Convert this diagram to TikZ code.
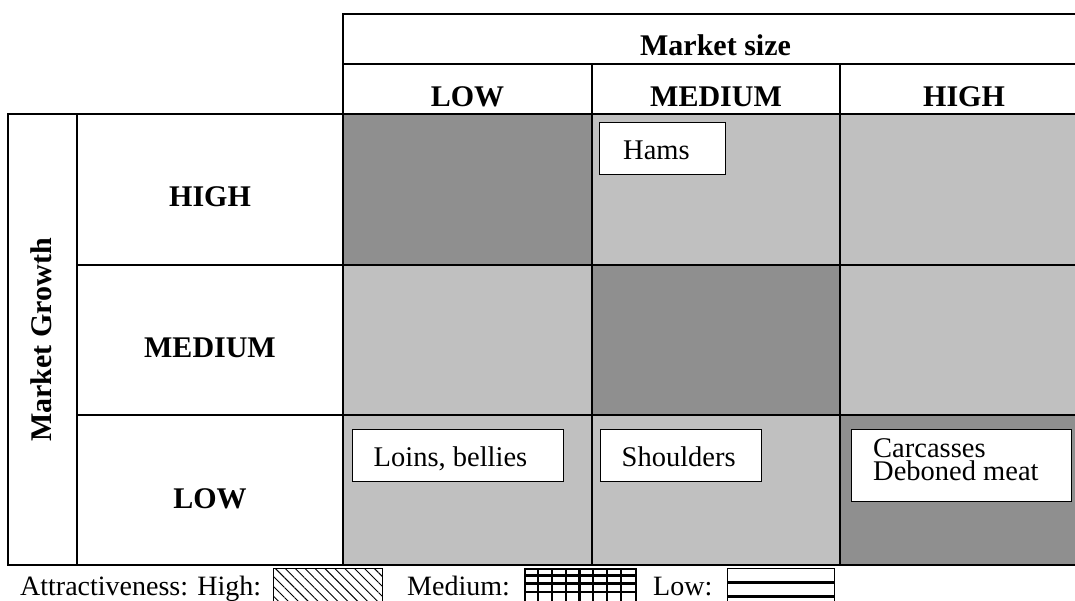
\documentclass[tikz,border=0pt]{standalone}
\usepackage{fontspec}
\setmainfont{Liberation Serif}
\usetikzlibrary{patterns.meta}
\definecolor{cellDark}{RGB}{143,143,143}
\definecolor{cellLight}{RGB}{192,192,192}

\begin{document}
\begin{tikzpicture}[x=1pt,y=-1pt,
  rule/.style={line width=2pt, line cap=rect},
  hdr/.style={font=\fontsize{30}{32}\selectfont\bfseries, anchor=base, inner sep=0pt},
  itembox/.style={draw, fill=white, line width=1.2pt, inner sep=0pt, anchor=north west},
  itemtext/.style={font=\fontsize{28.5}{30}\selectfont, anchor=base west, inner sep=0pt},
  legtext/.style={font=\fontsize{28}{30}\selectfont, anchor=base west, inner sep=0pt},
  swatch/.style={draw, inner sep=0pt, anchor=north west, minimum height=40pt}
]
\useasboundingbox (0,0) rectangle (1075,600);
\clip (0,0) rectangle (1075,600);

% attractiveness shading of the nine cells
\fill[cellDark]  (343,114)   rectangle (592,264.5);
\fill[cellLight] (592,114)   rectangle (840,264.5);
\fill[cellLight] (840,114)   rectangle (1090,264.5);
\fill[cellLight] (343,264.5) rectangle (592,415);
\fill[cellDark]  (592,264.5) rectangle (840,415);
\fill[cellLight] (840,264.5) rectangle (1090,415);
\fill[cellLight] (343,415)   rectangle (592,565);
\fill[cellLight] (592,415)   rectangle (840,565);
\fill[cellDark]  (840,415)   rectangle (1090,565);

% table rules
\draw[rule] (343,565) -- (343,14) -- (1090,14);
\draw[rule] (343,64) -- (1090,64);
\draw[rule] (8,565) -- (8,114) -- (1090,114);
\draw[rule] (77,114) -- (77,565);
\draw[rule] (77,264.5) -- (1090,264.5);
\draw[rule] (77,415) -- (1090,415);
\draw[rule] (8,565) -- (1090,565);
\draw[rule] (592,64) -- (592,565);
\draw[rule] (840,64) -- (840,565);

% column headings
\node[hdr] (msize) at (715.5,55) {Market size};
\node[hdr] (colLow) at (467.5,106) {LOW};
\node[hdr] (colMed) at (716,106) {MEDIUM};
\node[hdr] (colHigh) at (964,106) {HIGH};

% row headings
\node[hdr, anchor=center, rotate=90] (mgrowth) at (41,340) {Market Growth};
\node[hdr] (rowHigh) at (210,206) {HIGH};
\node[hdr] (rowMed) at (210,357) {MEDIUM};
\node[hdr] (rowLow) at (210,508) {LOW};

% product boxes
\node[itembox, minimum width=126pt, minimum height=52pt] (hams) at (599,122) {};
\node[itemtext] (hamsT) at ([xshift=24pt,yshift=-11pt]hams.west) {Hams};

\node[itembox, minimum width=211.5pt, minimum height=52pt] (loins) at (351.5,429) {};
\node[itemtext] (loinsT) at ([xshift=22pt,yshift=-11pt]loins.west) {Loins, bellies};

\node[itembox, minimum width=161.5pt, minimum height=52pt] (shoulders) at (599.5,429) {};
\node[itemtext] (shouldersT) at ([xshift=22pt,yshift=-11pt]shoulders.west) {Shoulders};

\node[itembox, minimum width=220pt, minimum height=71.5pt] (carc) at (851,429) {};
\node[itemtext] (carcT1) at ([xshift=22pt,yshift=-28pt]carc.north west) {Carcasses};
\node[itemtext] (carcT2) at ([xshift=22pt,yshift=-51.5pt]carc.north west) {Deboned meat};

% legend
\node[legtext] (legHigh) at (20,595) {Attractiveness: High:};
\node[swatch, line width=1pt, minimum width=109pt,
      pattern={Lines[angle=-45,distance=7pt,line width=0.9pt]}] (swHigh) at (273,568) {};

\node[legtext] (legMed) at (407,595) {Medium:};
\node[swatch, line width=2pt, minimum width=111pt] (swMed) at (524,568) {};
\foreach \i in {1,...,7}
  \draw[line width=2.2pt] ([xshift=\i*13.875pt]swMed.north west) -- ([xshift=\i*13.875pt]swMed.south west);
\foreach \d in {7.5,15.5,24}
  \draw[line width=2.2pt] ([yshift=-\d pt]swMed.north west) -- ([yshift=-\d pt]swMed.north east);

\node[legtext] (legLow) at (653,595) {Low:};
\node[swatch, line width=1.2pt, minimum width=107pt] (swLow) at (727,568) {};
\foreach \d in {14.5,28.5}
  \draw[line width=3pt] ([yshift=-\d pt]swLow.north west) -- ([yshift=-\d pt]swLow.north east);
\end{tikzpicture}
\end{document}
